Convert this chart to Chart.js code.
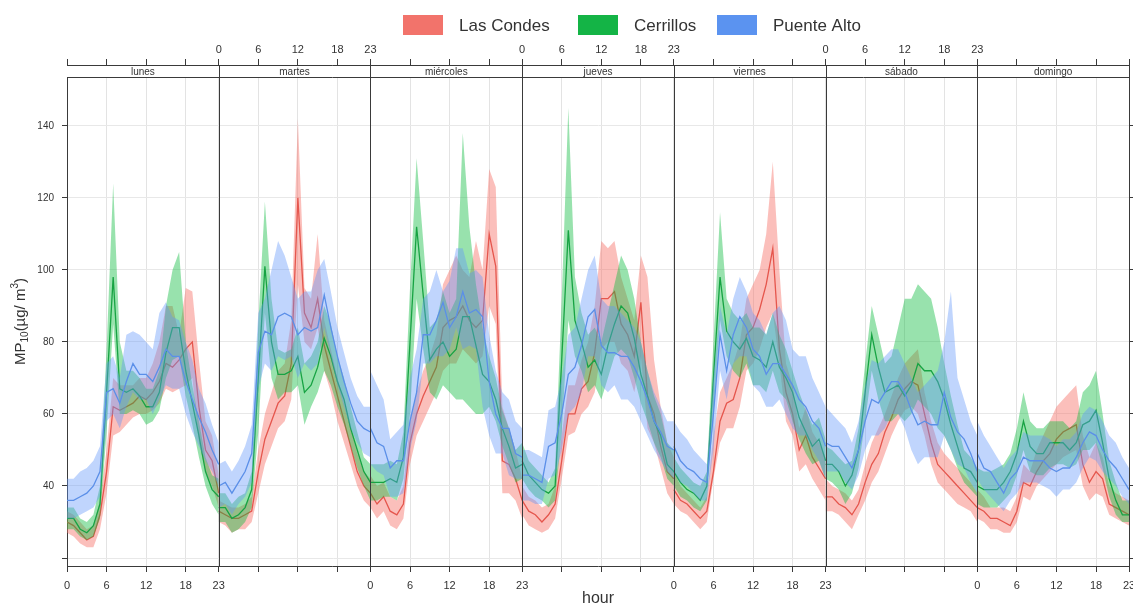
<!DOCTYPE html>
<html>
<head>
<meta charset="utf-8">
<script src="https://cdn.jsdelivr.net/npm/chart.js@4.4.1/dist/chart.umd.min.js"></script>
<style>
  html, body { margin: 0; padding: 0; background: #fff; }
</style>
</head>
<body>
<canvas id="chartId" width="1133" height="609"></canvas>
<script>
const DAYS = ['lunes', 'martes', 'miércoles', 'jueves', 'viernes', 'sábado', 'domingo']
const HOUR_TICKS = [0, 6, 12, 18, 23]
const Y_TICKS = [20, 40, 60, 80, 100, 120, 140]
const SITES = ['Las Condes', 'Cerrillos', 'Puente Alto']

// one row per day, hours 0..23
const lcMean = [
  30,29,27,25,26,32,44,62,61,62,63,65,64,66,69,74,73,75,78,80,62,50,47,38,
  33,32,31,31,32,33,44,53,58,63,65,74,120,88,84,92,79,72,65,58,51,44,40,38,
  38,35,37,33,32,35,52,60,65,69,73,84,86,87,90,86,84,86,110,101,47,46,42,36,
  36,33,32,30,32,35,47,60,60,67,69,77,92,92,94,85,82,76,91,65,60,51,44,42,
  39,36,35,33,31,33,44,58,63,64,70,82,84,89,96,106,78,66,60,50,54,48,45,42,
  37,37,35,34,32,35,41,46,49,55,59,64,67,69,68,60,52,46,44,42,40,38,36,34,
  34,33,31,31,30,29,33,41,40,44,47,49,53,55,56,57,46,41,44,42,35,34,33,32
]
const lcLo = [
  27,26,24,23,23,28,38,54,55,57,59,60,60,61,63,67,66,67,68,70,52,44,40,34,
  30,29,27,28,28,30,38,46,51,56,58,64,96,80,78,84,72,66,58,52,46,40,36,34,
  34,31,33,29,28,31,46,54,58,62,66,72,74,74,78,76,74,76,90,85,38,38,36,31,
  32,29,28,27,28,31,42,54,55,60,62,66,78,80,80,74,72,66,76,56,52,45,38,35,
  35,33,32,30,28,30,42,52,56,56,62,72,74,78,84,88,74,58,54,44,46,42,39,36,
  33,33,32,30,28,32,36,41,44,49,54,58,61,62,60,54,46,41,39,37,35,34,33,30,
  31,30,28,28,27,27,30,37,36,40,42,44,46,48,49,50,40,36,38,37,32,31,30,29
]
const lcHi = [
  33,32,30,28,29,36,50,70,68,68,68,70,70,74,80,90,90,82,95,94,75,58,54,43,
  36,35,34,34,35,37,50,60,66,72,74,86,142,95,92,110,86,78,70,63,56,49,44,42,
  43,40,41,37,36,40,58,66,72,76,82,96,100,104,100,98,108,100,128,123,62,56,50,42,
  40,37,36,34,35,40,54,68,68,75,80,90,108,106,108,98,92,86,104,98,75,62,52,48,
  44,40,38,36,34,37,54,66,70,74,80,92,96,100,110,130,100,74,68,56,62,55,52,48,
  42,40,39,38,36,39,46,52,56,60,65,70,74,76,78,66,58,52,49,47,45,43,41,38,
  39,37,34,34,34,33,37,46,44,50,54,58,62,64,66,68,54,48,52,48,40,38,37,36
]

const ceMean = [
  31,31,28,27,29,35,66,98,67,66,67,65,62,62,66,77,84,84,72,63,54,44,39,37,
  34,34,31,32,34,39,70,101,80,71,71,72,76,66,68,73,81,76,69,64,56,50,44,41,
  41,41,41,42,41,48,80,112,93,75,78,80,76,78,87,87,79,71,69,64,56,51,45,46,
  47,43,41,39,38,40,75,111,86,80,73,75,71,79,85,90,88,81,71,65,58,54,46,44,
  44,41,39,38,36,40,70,98,83,80,78,81,76,75,73,80,73,70,66,59,55,51,53,47,
  46,46,44,40,43,50,66,82,73,66,67,68,65,68,74,72,72,69,64,57,51,45,44,41,
  40,39,39,39,41,44,49,58,51,49,49,52,52,52,50,52,57,58,61,52,42,36,32,32
]
const ceLo = [
  28,28,26,25,26,31,55,85,60,60,61,60,57,58,61,70,75,76,65,57,48,40,35,32,
  30,30,27,28,30,34,55,88,70,64,66,66,68,57,62,66,72,68,62,57,51,45,40,36,
  36,36,37,37,36,42,60,92,78,66,64,68,66,64,64,62,60,60,62,58,51,46,41,42,
  42,39,37,36,34,36,55,86,76,72,66,68,64,70,76,78,76,70,63,58,52,48,42,40,
  40,37,36,34,33,36,60,86,76,72,70,74,68,68,66,72,66,64,58,53,49,46,47,42,
  42,41,39,35,38,45,58,72,64,58,58,60,58,60,64,62,60,56,54,50,45,41,39,37,
  35,34,34,34,36,38,43,50,44,43,43,45,46,46,45,46,50,50,52,45,37,32,30,30
]
const ceHi = [
  34,34,31,30,32,40,78,124,80,72,72,70,67,67,72,90,100,105,80,68,58,48,43,42,
  38,38,35,37,38,44,85,119,92,78,77,78,84,74,76,80,90,85,76,70,62,55,48,46,
  46,46,46,47,46,55,95,131,108,84,86,94,88,92,138,112,96,84,76,70,61,56,50,52,
  52,47,45,43,41,45,92,145,98,88,82,84,80,88,96,104,100,92,80,72,65,60,52,50,
  48,45,43,41,40,44,80,116,92,88,86,88,84,84,82,88,82,78,72,66,61,57,59,53,
  51,50,48,46,47,56,74,90,82,74,76,84,92,92,96,94,92,84,74,65,57,50,48,45,
  45,44,44,45,46,49,56,66,58,56,56,58,58,58,56,58,66,68,72,60,47,41,36,36
]

const paMean = [
  36,36,37,38,40,44,66,67,63,69,74,71,71,69,73,78,76,76,69,64,59,55,50,46,
  40,41,38,41,44,49,77,83,82,87,88,87,82,84,83,84,93,84,76,69,63,58,56,55,
  56,52,51,45,47,47,58,66,82,82,86,91,84,87,94,88,89,87,69,60,56,56,49,48,
  43,43,42,41,51,52,60,71,73,79,87,89,79,77,77,76,76,73,69,64,58,55,51,50,
  51,47,45,44,42,41,60,82,72,82,87,84,78,76,71,74,74,71,68,64,62,58,56,51,
  52,51,51,48,45,50,58,64,63,66,69,69,66,61,57,58,57,57,66,59,55,53,49,44,
  49,45,44,41,38,42,44,48,47,47,47,45,44,45,45,48,52,55,54,50,47,45,42,39
]
const paLo = [
  31,31,32,33,34,37,58,60,56,62,66,64,64,60,64,68,67,67,60,55,51,47,44,40,
  34,35,32,35,37,41,67,74,72,76,75,76,70,74,72,74,84,76,68,62,56,52,49,48,
  46,44,43,37,37,38,50,58,74,74,76,76,78,84,78,79,78,62,54,49,49,43,42,42,
  36,36,35,35,42,43,50,60,62,66,76,76,68,66,68,64,64,62,58,54,50,47,44,42,
  44,41,40,38,36,36,50,72,64,74,76,76,68,66,62,62,64,60,56,54,54,50,47,42,
  44,44,44,41,39,43,50,54,54,56,60,60,56,50,46,48,48,48,54,50,46,45,41,38,
  42,39,37,35,33,36,38,41,41,41,40,39,37,39,39,41,45,48,47,44,42,40,37,35
]
const paHi = [
  42,42,44,45,47,51,74,76,70,82,83,82,80,78,88,91,87,86,80,75,67,63,57,52,
  46,47,44,47,51,57,88,92,100,108,104,98,92,94,94,100,103,94,84,77,70,65,62,62,
  72,68,64,53,55,57,70,78,92,94,100,94,97,106,106,99,100,98,82,72,66,64,58,56,
  50,50,49,48,61,62,70,82,84,92,100,104,92,90,90,88,86,84,80,72,66,62,58,58,
  58,55,53,50,48,46,70,90,82,92,98,94,88,86,82,88,90,86,78,76,76,70,66,62,
  62,60,58,56,52,58,68,75,74,76,78,78,74,70,66,68,70,72,80,94,70,64,58,54,
  58,54,51,48,45,48,50,55,54,54,54,53,51,53,53,55,60,62,61,58,54,52,48,45
]

const LINE_COLORS = ['#e5564d', '#17a343', '#5b8fe8']
const BAND_COLORS = ['rgba(246,112,104,0.45)', 'rgba(10,185,60,0.42)', 'rgba(97,150,250,0.40)']
const KEY_COLORS = ['#f2736b', '#14b446', '#5b93f0']
const FONT = '"Liberation Sans", Arial, sans-serif'

const SPAN = 23
const X_MAX = SPAN * DAYS.length

// x = day * 23 + hour, with a null after each day so the panels do not join
function toPoints(values) {
  let pts = []
  DAYS.forEach((day, d) => {
    for (let h = 0; h < 24; h++) {
      pts.push({ x: d * SPAN + h, y: values[d * 24 + h] })
    }
    if (d < DAYS.length - 1) pts.push({ x: d * SPAN + SPAN, y: null })
  })
  return pts
}

let tickValues = []
DAYS.forEach((day, d) => {
  HOUR_TICKS.forEach(h => {
    let v = d * SPAN + h
    if (tickValues.indexOf(v) < 0) tickValues.push(v)
  })
})

// bottom axis labels even panels, top axis labels odd panels
function tickLabel(v, parity) {
  let d = Math.floor(v / SPAN)
  let h = v - d * SPAN
  if (h == 0) {
    if (d > 0 && (d - 1) % 2 == parity) return '23'
    if (d < DAYS.length && d % 2 == parity) return '0'
    return ''
  }
  return d % 2 == parity ? String(h) : ''
}

const seriesData = [
  [lcMean, lcLo, lcHi],
  [ceMean, ceLo, ceHi],
  [paMean, paLo, paHi]
]

let datasets = []
seriesData.forEach((s, i) => {
  datasets.push({
    label: SITES[i] + ' lo',
    data: toPoints(s[1]),
    borderColor: 'rgba(0,0,0,0)',
    borderWidth: 0,
    pointRadius: 0,
    fill: false
  })
  datasets.push({
    label: SITES[i] + ' hi',
    data: toPoints(s[2]),
    borderColor: 'rgba(0,0,0,0)',
    borderWidth: 0,
    pointRadius: 0,
    backgroundColor: BAND_COLORS[i],
    fill: '-1'
  })
  datasets.push({
    label: SITES[i],
    data: toPoints(s[0]),
    borderColor: LINE_COLORS[i],
    borderWidth: 1.3,
    pointRadius: 0,
    fill: false
  })
})
// first site at the bottom
datasets.forEach((ds, i) => {
  ds.order = datasets.length - i
  ds.tension = 0
  ds.spanGaps = false
})

const STRIP_H = 12

const panelPlugin = {
  id: 'panels',
  afterDatasetsDraw(chart) {
    const ctx = chart.ctx
    const a = chart.chartArea
    const x = chart.scales.x
    ctx.save()
    ctx.fillStyle = '#fff'
    ctx.fillRect(a.left, a.top + 1, a.right - a.left, STRIP_H)
    ctx.strokeStyle = '#3a3a3a'
    ctx.lineWidth = 1
    ctx.beginPath()
    ctx.moveTo(a.left, a.top + STRIP_H + 0.5)
    ctx.lineTo(a.right, a.top + STRIP_H + 0.5)
    for (let d = 1; d < DAYS.length; d++) {
      let px = Math.round(x.getPixelForValue(d * SPAN)) + 0.5
      ctx.moveTo(px, a.top)
      ctx.lineTo(px, a.bottom)
    }
    ctx.stroke()
    ctx.font = '10px ' + FONT
    ctx.fillStyle = '#333'
    ctx.textAlign = 'center'
    ctx.textBaseline = 'middle'
    DAYS.forEach((day, d) => {
      ctx.fillText(day, x.getPixelForValue(d * SPAN + SPAN / 2), a.top + STRIP_H / 2 + 1)
    })
    ctx.restore()
  },
  afterDraw(chart) {
    const ctx = chart.ctx
    const a = chart.chartArea
    ctx.save()
    // legend
    const keyX = [403, 578, 717]
    ctx.font = '17px ' + FONT
    ctx.textBaseline = 'middle'
    ctx.textAlign = 'left'
    SITES.forEach((name, i) => {
      ctx.fillStyle = KEY_COLORS[i]
      ctx.fillRect(keyX[i], 15, 40, 20)
      ctx.fillStyle = '#333'
      ctx.fillText(name, keyX[i] + 56, 26)
    })
    // x title
    ctx.font = '16px ' + FONT
    ctx.textAlign = 'center'
    ctx.fillText('hour', (a.left + a.right) / 2, 599)
    // y title with sub/superscript
    const big = '15px ' + FONT
    const small = '10px ' + FONT
    const parts = [
      ['MP', big, 0],
      ['10', small, 4],
      ['(µg/ m', big, 0],
      ['3', small, -6],
      [')', big, 0]
    ]
    let total = 0
    parts.forEach(p => { ctx.font = p[1]; total += ctx.measureText(p[0]).width })
    ctx.translate(21, (a.top + STRIP_H + a.bottom) / 2)
    ctx.rotate(-Math.PI / 2)
    ctx.textAlign = 'left'
    let pos = -total / 2
    parts.forEach(p => {
      ctx.font = p[1]
      ctx.fillText(p[0], pos, p[2])
      pos += ctx.measureText(p[0]).width
    })
    ctx.restore()
  }
}

const tickFont = { family: FONT, size: 11 }

function xAxis(position, parity, height, pad) {
  return {
    type: 'linear',
    position: position,
    min: 0,
    max: X_MAX,
    afterBuildTicks: scale => { scale.ticks = tickValues.map(v => ({ value: v })) },
    afterFit: scale => {
      scale.height = height
      scale.paddingLeft = 0
      scale.paddingRight = 0
    },
    ticks: {
      autoSkip: false,
      maxRotation: 0,
      padding: pad,
      color: '#333',
      font: tickFont,
      callback: v => tickLabel(v, parity)
    },
    grid: {
      drawOnChartArea: parity == 0,
      color: '#e3e3e3',
      tickColor: '#3a3a3a',
      tickLength: 6
    },
    border: { color: '#3a3a3a' }
  }
}

function yAxis(position, width, labels) {
  return {
    type: 'linear',
    position: position,
    min: 17.78,
    max: 156.9,
    afterBuildTicks: scale => { scale.ticks = Y_TICKS.map(v => ({ value: v })) },
    afterFit: scale => {
      scale.width = width
      scale.paddingTop = 0
      scale.paddingBottom = 0
    },
    ticks: {
      padding: 8,
      color: '#333',
      font: { family: FONT, size: 10 },
      callback: v => (labels && v != 20) ? String(v) : ''
    },
    grid: {
      drawOnChartArea: labels,
      color: '#e8e8e8',
      tickColor: '#3a3a3a',
      tickLength: 5
    },
    border: { color: '#3a3a3a' }
  }
}

new Chart(document.getElementById('chartId'), {
  type: 'line',
  data: { datasets: datasets },
  options: {
    responsive: false,
    animation: false,
    devicePixelRatio: 1,
    layout: { padding: { top: 43, bottom: 0, left: 0, right: 0 } },
    plugins: {
      legend: { display: false },
      tooltip: { enabled: false }
    },
    scales: {
      x: xAxis('bottom', 0, 43, 7),
      xTop: xAxis('top', 1, 22, 2),
      y: yAxis('left', 67, true),
      yRight: yAxis('right', 4, false)
    }
  },
  plugins: [panelPlugin]
})
</script>
</body>
</html>
